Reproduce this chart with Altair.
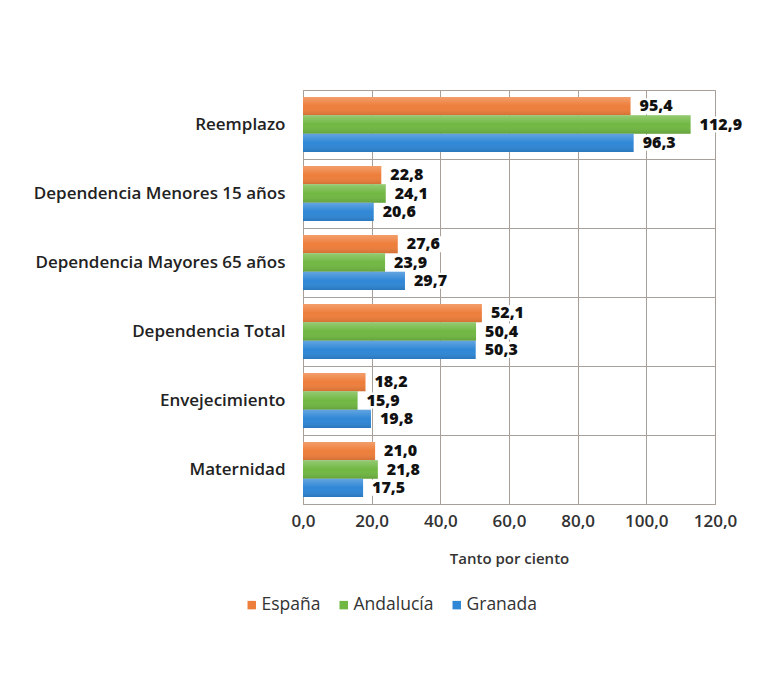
import altair as alt
import pandas as pd

categories = ["Reemplazo", "Dependencia Menores 15 años", "Dependencia Mayores 65 años",
              "Dependencia Total", "Envejecimiento", "Maternidad"]
series = ["España", "Andalucía", "Granada"]
espana = [95.4, 22.8, 27.6, 52.1, 18.2, 21.0]
andalucia = [112.9, 24.1, 23.9, 50.4, 15.9, 21.8]
granada = [96.3, 20.6, 29.7, 50.3, 19.8, 17.5]
x_ticks = [0, 20, 40, 60, 80, 100, 120]
colors = ["#EE7E3B", "#71B843", "#2F87D6"]

rows = []
for s, vals in zip(series, [espana, andalucia, granada]):
    for c, v in zip(categories, vals):
        rows.append({"indicador": c, "serie": s, "valor": v})
df = pd.DataFrame(rows)

grid_col = "#a8a098"
FONT = "Open Sans"

base = alt.Chart(df).transform_calculate(
    etiqueta="replace(format(datum.valor, '.1f'), '.', ',')",
    fondo_ini="datum.valor + 2.5",
    fondo_fin="datum.valor + 3 + length(replace(format(datum.valor, '.1f'), '.', ',')) * 2.7",
)

y_enc = alt.Y("indicador:N", sort=categories,
              scale=alt.Scale(paddingInner=0, paddingOuter=0),
              axis=alt.Axis(title=None, ticks=False, domain=False, grid=True,
                            tickBand="extent", gridColor=grid_col, gridOpacity=1,
                            labelFont=FONT, labelFontSize=17, labelFontWeight=600,
                            labelColor="#222222", labelPadding=18, labelLimit=400))
y_plain = alt.Y("indicador:N", sort=categories)
yoff = alt.YOffset("serie:N", sort=series,
                   scale=alt.Scale(paddingInner=0, paddingOuter=0.38))
x_enc = alt.X("valor:Q", scale=alt.Scale(domain=[0, 120], nice=False),
              axis=alt.Axis(values=x_ticks, title="Tanto por ciento",
                            labelExpr="replace(format(datum.value, '.1f'), '.', ',')",
                            labelFlush=False, labelOverlap=False,
                            ticks=False, domain=False, grid=True, gridColor=grid_col,
                            gridOpacity=1, labelFont=FONT, labelFontSize=17,
                            labelFontWeight=600, labelColor="#333333", labelPadding=9,
                            titleFont=FONT, titleFontSize=15, titleFontWeight=600,
                            titleColor="#333333", titlePadding=22))

bars = base.mark_bar(size=18.3).encode(
    x=x_enc, y=y_enc, yOffset=yoff,
    color=alt.Color("serie:N", sort=series,
                    scale=alt.Scale(domain=series, range=colors),
                    legend=alt.Legend(title=None, orient="none", direction="horizontal",
                                      legendX=-60, legendY=506, symbolType="square",
                                      symbolSize=72, symbolStrokeWidth=0,
                                      labelFont=FONT, labelFontSize=17.5,
                                      labelColor="#333333", labelOffset=1,
                                      columnPadding=14)),
)

shade = base.mark_bar(
    size=18.3,
    fill=alt.Gradient(gradient="linear", x1=0, y1=0, x2=0, y2=1,
                      stops=[alt.GradientStop(offset=0, color="rgba(255,255,255,0.25)"),
                             alt.GradientStop(offset=0.5, color="rgba(255,255,255,0)"),
                             alt.GradientStop(offset=1, color="rgba(0,0,0,0.12)")])
).encode(x="valor:Q", y=y_plain, yOffset=yoff)

# white backing behind value labels (hides gridlines like the halo in the original)
backing = base.mark_bar(size=16, color="white", clip=False).encode(
    x="fondo_ini:Q", x2="fondo_fin:Q", y=y_plain, yOffset=yoff)

labels = base.mark_text(align="left", baseline="middle", dx=9, font=FONT, fontSize=16,
                        fontWeight=800, color="#111111").encode(
    x="valor:Q", y=y_plain, yOffset=yoff, text="etiqueta:N")

chart = alt.layer(bars, shade, backing, labels).properties(
    width=412, height=414,
    autosize=alt.AutoSizeParams(type="none"),
    padding={"left": 295, "top": 82, "right": 37, "bottom": 177},
    background="white",
).configure_view(stroke=grid_col, strokeWidth=1)

chart.save("out.html", embed_options={"renderer": "svg", "actions": False})
